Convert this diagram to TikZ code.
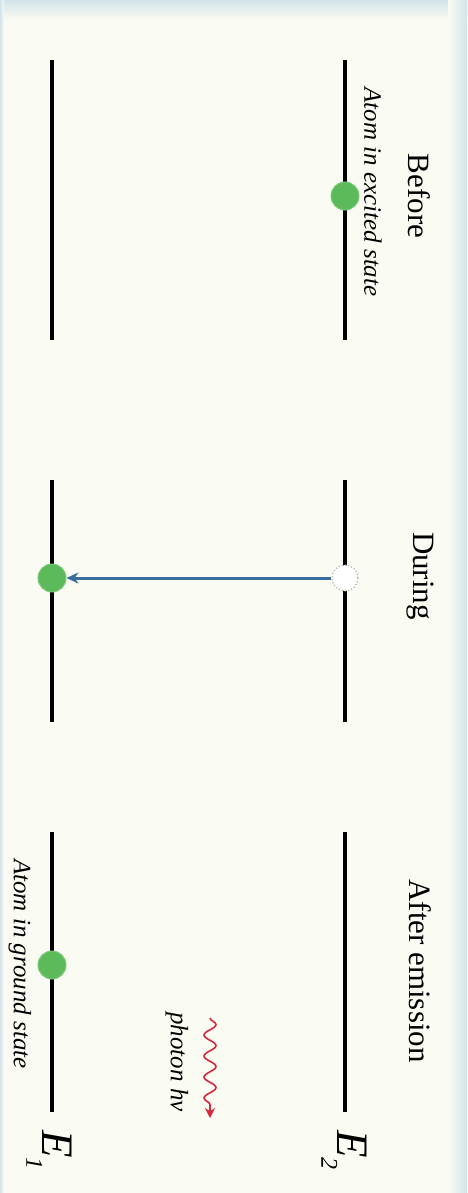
\documentclass[tikz,border=0pt]{standalone}
\usepackage{fontspec}
\setmainfont{Liberation Serif}
\usetikzlibrary{arrows.meta,decorations.pathmorphing}
\definecolor{bgcream}{HTML}{FAFBF2}
\definecolor{edgeblue}{HTML}{D2E4EA}
\definecolor{atomgreen}{HTML}{5CBA5A}
\definecolor{arrowblue}{HTML}{3A6C9E}
\definecolor{photonred}{HTML}{D8263A}
\tikzset{
  level/.style={line width=4.5pt, black},
  atom/.style={circle, fill=atomgreen, draw=atomgreen!80!white, line width=1pt, minimum size=28pt, inner sep=0pt},
  hollow/.style={circle, fill=white, draw=gray!60, dotted, line width=1.2pt, minimum size=26pt, inner sep=0pt},
  heading/.style={rotate=-90, font=\fontsize{31}{34}\selectfont, inner sep=0pt},
  caption/.style={rotate=-90, font=\fontsize{25}{28}\selectfont\itshape, inner sep=0pt},
  energy/.style={rotate=-90, font=\fontsize{45}{48}\selectfont\itshape, inner sep=0pt},
  transition/.style={arrowblue, line width=3pt, -{Stealth[length=12pt,width=11pt]}},
  photon/.style={photonred, line width=1.6pt, decorate,
    decoration={snake, amplitude=6pt, segment length=21pt, post length=9pt},
    -{Stealth[length=10pt,width=10pt]}}
}
\begin{document}
\begin{tikzpicture}[x=1pt,y=-1pt]
\useasboundingbox (0,0) rectangle (467,1193);
% background
\fill[bgcream] (0,0) rectangle (467,1193);
\shade[top color=edgeblue, bottom color=bgcream] (0,0) rectangle (467,20);
\shade[left color=bgcream, right color=edgeblue] (448,0) rectangle (467,1193);
\shade[left color=edgeblue, right color=bgcream] (0,0) rectangle (4,1193);
% level endpoints
\coordinate (b2s) at (345,60);  \coordinate (b2e) at (345,340);
\coordinate (b1s) at (52,60);   \coordinate (b1e) at (52,340);
\coordinate (d2s) at (345,480); \coordinate (d2e) at (345,722);
\coordinate (d1s) at (52,480);  \coordinate (d1e) at (52,722);
\coordinate (a2s) at (345,832); \coordinate (a2e) at (345,1112);
\coordinate (a1s) at (52,832);  \coordinate (a1e) at (52,1112);
\draw[level] (b2s) -- (b2e);
\draw[level] (b1s) -- (b1e);
\draw[level] (d2s) -- (d2e);
\draw[level] (d1s) -- (d1e);
\draw[level] (a2s) -- (a2e);
\draw[level] (a1s) -- (a1e);
% headings
\node[heading] (before) at (419,196) {Before};
\node[heading] (during) at (420,576) {During};
\node[heading] (after) at (420,971) {After emission};
% captions
\node[caption] (excited) at (373,192) {Atom in excited state};
\node[caption] (ground) at (20,964) {Atom in ground state};
% atoms
\node[atom] (atomb) at (345,196) {};
\node[hollow] (atomd2) at (345,578) {};
\node[atom] (atomd1) at (52,578) {};
\node[atom] (atoma) at (52,965) {};
\draw[transition] (atomd2) -- (atomd1);
% photon
\coordinate (ph1) at (210,1018);
\coordinate (ph2) at (210,1118);
\draw[photon] (ph1) -- (ph2);
\node[caption] (phlabel) at (177,1062) {photon hν};
% energy labels
\node[energy] (e2) at (344,1150) {E\raisebox{-0.35em}{\fontsize{24}{26}\selectfont 2}};
\node[energy] (e1) at (49,1150) {E\raisebox{-0.35em}{\fontsize{24}{26}\selectfont 1}};
\end{tikzpicture}
\end{document}
